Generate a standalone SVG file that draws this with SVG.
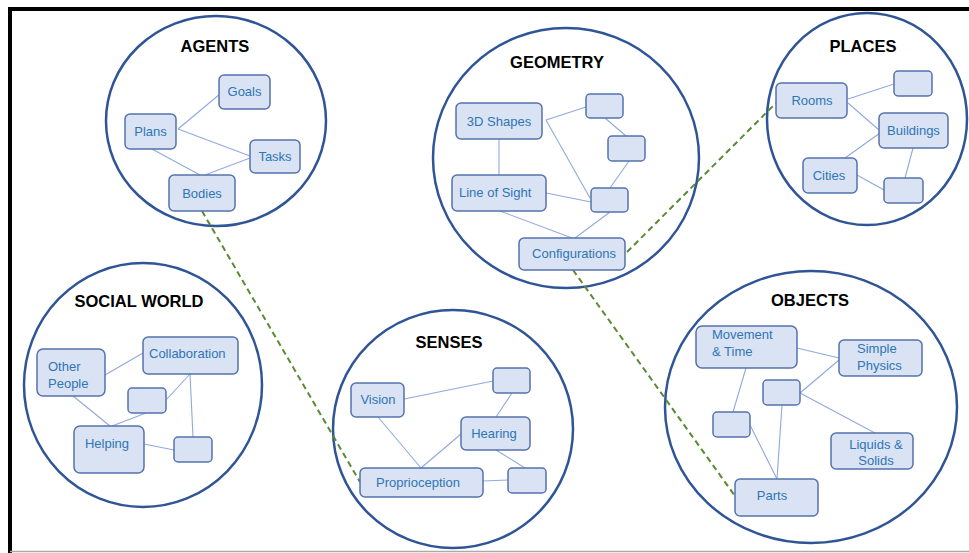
<svg xmlns="http://www.w3.org/2000/svg" width="969" height="553" viewBox="0 0 969 553">
<style>
.bg{fill:#ffffff}
.ring{fill:none;stroke:#2f5597;stroke-width:2.5}
.n{fill:#dae3f3;stroke:#5673ad;stroke-width:1.5}
.t{font-family:"Liberation Sans",Arial,sans-serif;font-size:13px;fill:#2e75b6}
.h{font-family:"Liberation Sans",Arial,sans-serif;font-size:16.5px;font-weight:bold;fill:#000;text-anchor:middle}
.c{text-anchor:middle}
.ln{stroke:#8faadc;stroke-width:1.1;fill:none}
.dash{stroke:#5a8a32;stroke-width:2;stroke-dasharray:6 4;fill:none}
</style>
<rect class="bg" x="0" y="0" width="969" height="553"/>
<path d="M10,553 V9 H969" fill="none" stroke="#000" stroke-width="4"/>
<line x1="10" y1="551.5" x2="969" y2="551.5" stroke="#aaaaaa" stroke-width="1.5"/>

<g id="circles">
<ellipse class="ring" cx="216" cy="121" rx="110" ry="105"/>
<ellipse class="ring" cx="566" cy="158" rx="133" ry="130"/>
<ellipse class="ring" cx="867" cy="119" rx="100" ry="106"/>
<ellipse class="ring" cx="143" cy="385" rx="119" ry="122"/>
<ellipse class="ring" cx="453" cy="429" rx="120" ry="119"/>
<ellipse class="ring" cx="811" cy="407" rx="146" ry="136"/>
</g>

<g id="connectors">
<!-- agents -->
<line class="ln" x1="178" y1="129" x2="220" y2="94"/>
<line class="ln" x1="178" y1="129" x2="250" y2="156"/>
<line class="ln" x1="152" y1="149" x2="200" y2="175"/>
<line class="ln" x1="250" y1="158" x2="205" y2="175"/>
<!-- geometry -->
<line class="ln" x1="499" y1="139" x2="499" y2="175"/>
<line class="ln" x1="546" y1="120" x2="586" y2="107"/>
<line class="ln" x1="546" y1="120" x2="590" y2="198"/>
<line class="ln" x1="605" y1="118" x2="626" y2="136"/>
<line class="ln" x1="629" y1="161" x2="610" y2="188"/>
<line class="ln" x1="546" y1="193" x2="591" y2="202"/>
<line class="ln" x1="500" y1="211" x2="572" y2="238"/>
<line class="ln" x1="610" y1="212" x2="575" y2="238"/>
<!-- places -->
<line class="ln" x1="848" y1="99" x2="894" y2="84"/>
<line class="ln" x1="848" y1="103" x2="879" y2="130"/>
<line class="ln" x1="880" y1="133" x2="845" y2="158"/>
<line class="ln" x1="857" y1="175" x2="884" y2="190"/>
<line class="ln" x1="913" y1="148" x2="905" y2="178"/>
<!-- social -->
<line class="ln" x1="105" y1="375" x2="143" y2="353"/>
<line class="ln" x1="73" y1="396" x2="110" y2="426"/>
<line class="ln" x1="112" y1="426" x2="146" y2="413"/>
<line class="ln" x1="190" y1="374" x2="166" y2="400"/>
<line class="ln" x1="190" y1="374" x2="193" y2="437"/>
<line class="ln" x1="144" y1="444" x2="174" y2="450"/>
<!-- senses -->
<line class="ln" x1="404" y1="399" x2="493" y2="381"/>
<line class="ln" x1="378" y1="417" x2="421" y2="468"/>
<line class="ln" x1="461" y1="434" x2="421" y2="468"/>
<line class="ln" x1="496" y1="417" x2="512" y2="393"/>
<line class="ln" x1="496" y1="450" x2="525" y2="468"/>
<line class="ln" x1="483" y1="481" x2="508" y2="480"/>
<!-- objects -->
<line class="ln" x1="797" y1="348" x2="839" y2="358"/>
<line class="ln" x1="746" y1="368" x2="733" y2="412"/>
<line class="ln" x1="839" y1="360" x2="800" y2="393"/>
<line class="ln" x1="800" y1="393" x2="875" y2="433"/>
<line class="ln" x1="782" y1="405" x2="777" y2="479"/>
<line class="ln" x1="750" y1="425" x2="777" y2="479"/>
<!-- cross links -->
<line class="dash" x1="202" y1="211" x2="360" y2="482"/>
<line class="dash" x1="627" y1="252" x2="776" y2="103"/>
<line class="dash" x1="573" y1="270" x2="735" y2="496"/>
</g>

<g id="agents">
<text class="h" x="215" y="52">AGENTS</text>
<g id="goals"><rect class="n" x="219" y="75" width="51" height="34" rx="5"/><text class="t c" x="244.5" y="96">Goals</text></g>
<g id="plans"><rect class="n" x="125" y="114" width="51" height="35" rx="5"/><text class="t c" x="150.5" y="136">Plans</text></g>
<g id="tasks"><rect class="n" x="250" y="140" width="50" height="33" rx="5"/><text class="t c" x="275" y="161">Tasks</text></g>
<g id="bodies"><rect class="n" x="169" y="175" width="66" height="36" rx="5"/><text class="t c" x="202" y="198">Bodies</text></g>
</g>

<g id="geometry">
<text class="h" x="557" y="68">GEOMETRY</text>
<g id="shapes3d"><rect class="n" x="456" y="103" width="86" height="36" rx="5"/><text class="t c" x="499" y="126">3D Shapes</text></g>
<g id="geo-box1"><rect class="n" x="586" y="94" width="37" height="24" rx="4"/></g>
<g id="geo-box2"><rect class="n" x="608" y="136" width="37" height="25" rx="4"/></g>
<g id="lineofsight"><rect class="n" x="452" y="175" width="94" height="36" rx="5"/><text class="t" x="459" y="197">Line of Sight</text></g>
<g id="geo-box3"><rect class="n" x="591" y="188" width="37" height="24" rx="4"/></g>
<g id="configurations"><rect class="n" x="519" y="238" width="106" height="32" rx="5"/><text class="t c" x="574" y="258">Configurations</text></g>
</g>

<g id="places">
<text class="h" x="863" y="52">PLACES</text>
<g id="rooms"><rect class="n" x="776" y="83" width="71" height="35" rx="5"/><text class="t c" x="812" y="105">Rooms</text></g>
<g id="pl-box1"><rect class="n" x="894" y="71" width="38" height="25" rx="4"/></g>
<g id="buildings"><rect class="n" x="879" y="113" width="69" height="35" rx="5"/><text class="t c" x="913.5" y="135">Buildings</text></g>
<g id="cities"><rect class="n" x="803" y="158" width="54" height="35" rx="5"/><text class="t c" x="829" y="180">Cities</text></g>
<g id="pl-box2"><rect class="n" x="884" y="178" width="39" height="25" rx="4"/></g>
</g>

<g id="social">
<text class="h" x="139" y="307">SOCIAL WORLD</text>
<g id="otherpeople"><rect class="n" x="37" y="349" width="68" height="47" rx="6"/><text class="t" x="48" y="371">Other</text><text class="t" x="48" y="388">People</text></g>
<g id="collaboration"><rect class="n" x="143" y="337" width="95" height="37" rx="5"/><text class="t" x="149" y="358">Collaboration</text></g>
<g id="so-box1"><rect class="n" x="128" y="388" width="38" height="25" rx="4"/></g>
<g id="helping"><rect class="n" x="74" y="426" width="70" height="47" rx="6"/><text class="t c" x="107" y="448">Helping</text></g>
<g id="so-box2"><rect class="n" x="174" y="437" width="38" height="25" rx="4"/></g>
</g>

<g id="senses">
<text class="h" x="449" y="348">SENSES</text>
<g id="vision"><rect class="n" x="351" y="383" width="53" height="34" rx="5"/><text class="t c" x="378" y="404">Vision</text></g>
<g id="se-box1"><rect class="n" x="493" y="368" width="37" height="25" rx="4"/></g>
<g id="hearing"><rect class="n" x="461" y="417" width="69" height="33" rx="5"/><text class="t c" x="494" y="438">Hearing</text></g>
<g id="proprioception"><rect class="n" x="360" y="468" width="123" height="29" rx="5"/><text class="t c" x="418" y="487">Proprioception</text></g>
<g id="se-box2"><rect class="n" x="508" y="468" width="38" height="25" rx="4"/></g>
</g>

<g id="objects">
<text class="h" x="810" y="306">OBJECTS</text>
<g id="movement"><rect class="n" x="696" y="326" width="101" height="42" rx="6"/><text class="t" x="712" y="339">Movement</text><text class="t" x="712" y="356">&amp; Time</text></g>
<g id="simplephysics"><rect class="n" x="839" y="340" width="83" height="36" rx="5"/><text class="t" x="857" y="353">Simple</text><text class="t" x="857" y="370">Physics</text></g>
<g id="ob-box1"><rect class="n" x="763" y="380" width="37" height="25" rx="4"/></g>
<g id="ob-box2"><rect class="n" x="713" y="412" width="37" height="25" rx="4"/></g>
<g id="liquids"><rect class="n" x="831" y="433" width="82" height="36" rx="5"/><text class="t c" x="876" y="449">Liquids &amp;</text><text class="t c" x="876" y="465">Solids</text></g>
<g id="parts"><rect class="n" x="735" y="479" width="83" height="37" rx="5"/><text class="t c" x="772" y="500">Parts</text></g>
</g>
</svg>
